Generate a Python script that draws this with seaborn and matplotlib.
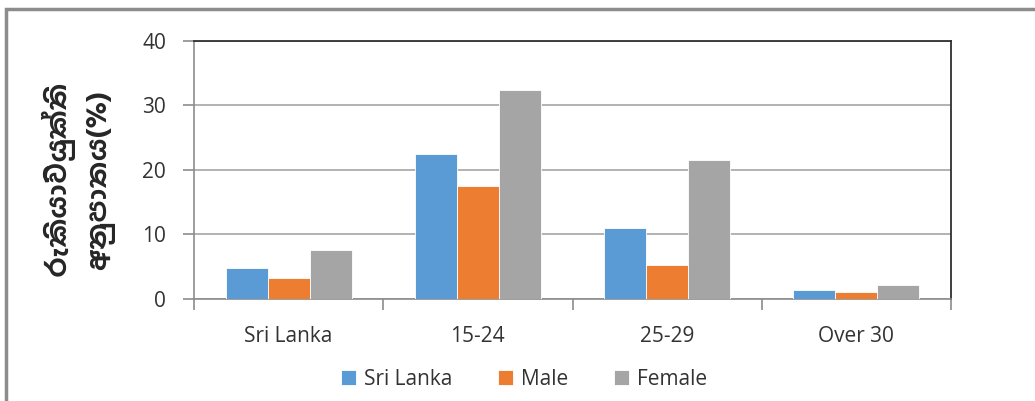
import matplotlib
matplotlib.use("Agg")
import matplotlib.pyplot as plt
import seaborn as sns
import pandas as pd

categories = ["Sri Lanka", "15-24", "25-29", "Over 30"]
series_names = ["Sri Lanka", "Male", "Female"]
sri_lanka = [4.7, 22.4, 10.9, 1.3]
male = [3.2, 17.5, 5.3, 1.0]
female = [7.5, 32.4, 21.5, 2.2]
y_ticks = [0, 10, 20, 30, 40]
y_label = "රැකියා වියුක්ති\nඅනුපාතය(%)"
colors = ["#5B9BD5", "#ED7D31", "#A5A5A5"]

rows = []
for name, vals in zip(series_names, [sri_lanka, male, female]):
    for c, v in zip(categories, vals):
        rows.append({"cat": c, "series": name, "value": v})
df = pd.DataFrame(rows)

sns.set_theme(style="white")
plt.rcParams["font.family"] = ["Open Sans", "DejaVu Sans"]

fig = plt.figure(figsize=(10.35, 4.01), dpi=100)
ax = fig.add_axes([194/1035, 1-298.7/401, (951-194)/1035, (298.7-41)/401])

sns.barplot(data=df, x="cat", y="value", hue="series", order=categories,
            hue_order=series_names, palette=colors, width=0.667,
            saturation=1, ax=ax, errorbar=None, legend=True, zorder=3)
for p in ax.patches:
    p.set_edgecolor("white")
    p.set_linewidth(0.6)

ax.set_ylim(0, 40)
ax.set_yticks(y_ticks)
ax.set_xlim(-0.5, len(categories) - 0.5)
ax.yaxis.grid(True, color="#a6a6a6", linewidth=1.2, zorder=0)
ax.set_axisbelow(True)
ax.set_xlabel("")
ax.set_ylabel(y_label, fontsize=20, fontweight="bold",
              linespacing=1.5,
              family=["Hind Colombo", "Noto Sans Sinhala", "DejaVu Sans"])
ax.yaxis.set_label_coords(-0.104, 0.46)

for s in ["left", "bottom"]:
    ax.spines[s].set_color("#8c8c8c")
    ax.spines[s].set_linewidth(1.2)
for s in ["top", "right"]:
    ax.spines[s].set_color("#303030")
    ax.spines[s].set_linewidth(1.3)

ax.tick_params(axis="y", which="major", direction="out", length=8, width=1.2,
               color="#8c8c8c", labelsize=15, pad=12, left=True)
ax.set_xticks([])
ax.set_xticks([i - 0.5 for i in range(len(categories) + 1)], minor=True)
ax.tick_params(axis="x", which="minor", direction="out", length=8, width=1.2,
               color="#8c8c8c", bottom=True)
ax.set_xticks(range(len(categories)))
ax.set_xticklabels(categories)
ax.tick_params(axis="x", which="major", length=0, labelsize=15, pad=20)
for t in ax.get_yticklabels() + ax.get_xticklabels():
    t.set_color("#333333")

leg = ax.legend(loc="upper center", bbox_to_anchor=(0.436, -0.2),
                ncol=3, frameon=False, fontsize=15, handlelength=0.7,
                handleheight=0.7, columnspacing=2.2, handletextpad=0.4)
for t in leg.get_texts():
    t.set_color("#333333")

border = plt.Rectangle((6/1035, -0.05), 1.2, 1 - 9/401 + 0.05, transform=fig.transFigure,
                       fill=False, edgecolor="#8c8c8c", linewidth=2.5)
fig.patches.append(border)

fig.savefig("out.png", dpi=100)
